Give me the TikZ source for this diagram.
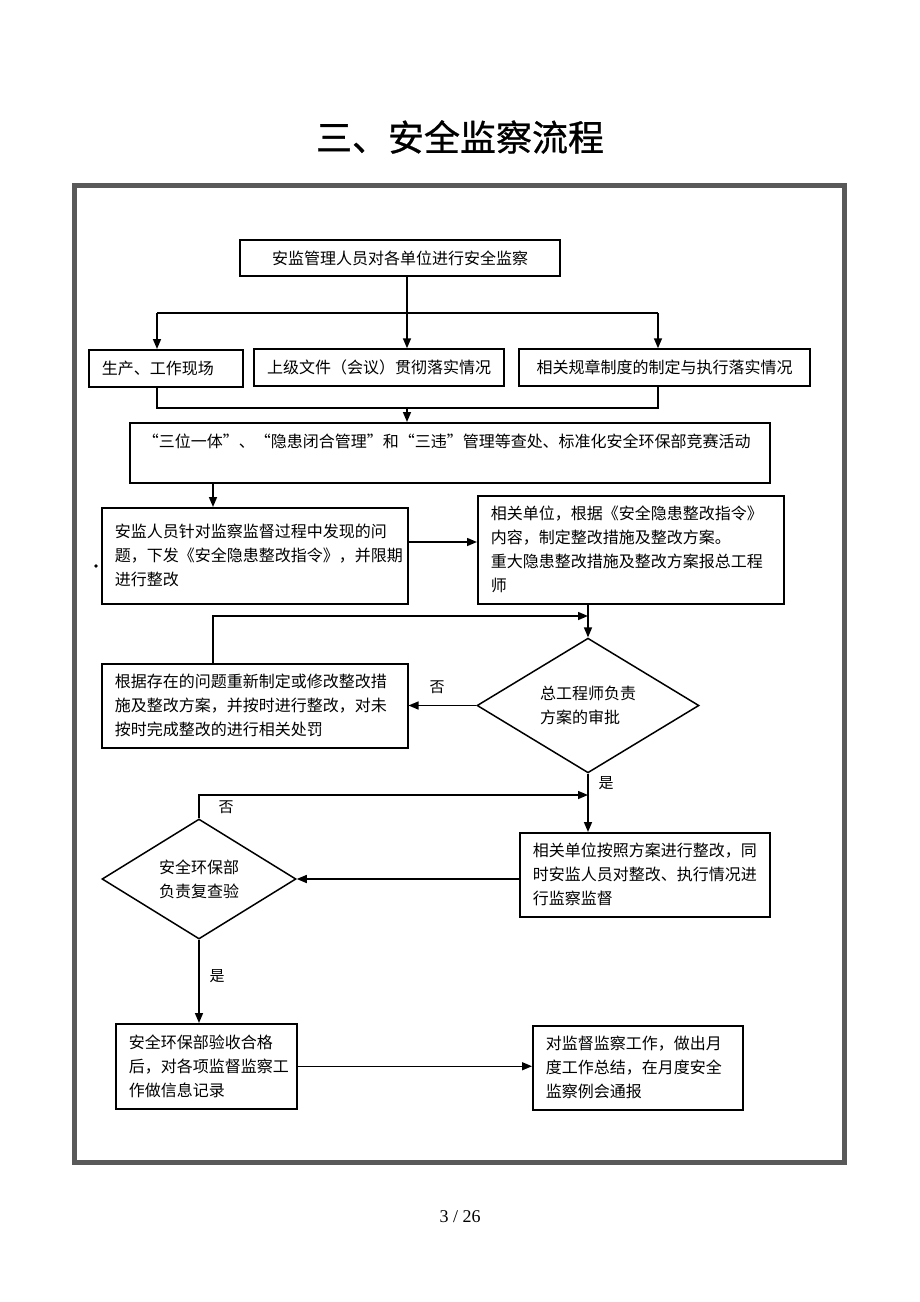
\documentclass[tikz,border=0pt]{standalone}
\usepackage{fontspec}
\setmainfont{Noto Sans CJK SC}
\newfontfamily\titlefont[FakeBold=0.8]{Noto Sans CJK SC}
\newfontfamily\pagefont{Liberation Serif}
\usetikzlibrary{arrows.meta,shapes.geometric}

\begin{document}
\begin{tikzpicture}[x=1pt,y=-1pt,
  box/.style={draw,line width=1.5pt,inner sep=0pt,font=\fontsize{16}{24}\selectfont},
  tbox/.style={box,anchor=north west,align=left,inner xsep=13pt},
  dbox/.style={draw,diamond,line width=1.5pt,inner sep=0pt,align=left,font=\fontsize{16}{24}\selectfont},
  ln/.style={line width=1.5pt},
  arr/.style={line width=1.5pt,-{Triangle[length=10pt,width=8pt]}},
  lab/.style={font=\fontsize{15}{18}\selectfont}]

\useasboundingbox (0,0) rectangle (920,1302);
\node[font=\titlefont\fontsize{36}{40}\selectfont] (title) at (460,137) {三、安全监察流程};
\draw[line width=5pt,black!65] (74.5,185.5) rectangle (844.5,1162.5);

\node[box,minimum width=320pt,minimum height=36pt] (top) at (400,258) {安监管理人员对各单位进行安全监察};
\node[tbox,text width=128pt,minimum height=37pt] (b1) at (88,349) {生产、工作现场};
\node[box,minimum width=250pt,minimum height=37pt] (b2) at (379,367.5) {上级文件（会议）贯彻落实情况};
\node[box,minimum width=291pt,minimum height=37pt] (b3) at (664.5,367.5) {相关规章制度的制定与执行落实情况};
\node[tbox,text width=614pt,minimum height=60pt] (sum) at (129,422) {“三位一体”、“隐患闭合管理”和“三违”管理等查处、标准化安全环保部竞赛活动\\ \mbox{}};
\node[tbox,text width=280pt,minimum height=96pt] (d1) at (101,507) {安监人员针对监察监督过程中发现的问\\题，下发《安全隐患整改指令》，并限期\\进行整改};
\node[tbox,text width=280pt,minimum height=108pt] (d2) at (477,495) {相关单位，根据《安全隐患整改指令》\\内容，制定整改措施及整改方案。\\重大隐患整改措施及整改方案报总工程\\师};
\node[dbox,minimum width=222pt,minimum height=133pt] (chk) at (588,705.5) {总工程师负责\\方案的审批};
\node[tbox,text width=280pt,minimum height=84pt] (e1) at (101,663) {根据存在的问题重新制定或修改整改措\\施及整改方案，并按时进行整改，对未\\按时完成整改的进行相关处罚};
\node[tbox,text width=224pt,minimum height=84pt] (f) at (519,832) {相关单位按照方案进行整改，同\\时安监人员对整改、执行情况进\\行监察监督};
\node[dbox,minimum width=194pt,minimum height=120pt] (rev) at (199,879) {安全环保部\\负责复查验};
\node[tbox,text width=155pt,minimum height=85pt] (h) at (115,1023) {安全环保部验收合格\\后，对各项监督监察工\\作做信息记录};
\node[tbox,text width=184pt,minimum height=84pt] (i) at (532,1025) {对监督监察工作，做出月\\度工作总结，在月度安全\\监察例会通报};

\coordinate (j1) at (157,313);
\coordinate (j2) at (407,313);
\coordinate (j3) at (658,313);
\draw[ln] (top.south -| j2) -- (j2);
\draw[ln] (j1) -- (j3);
\foreach \j/\b in {j1/b1,j2/b2,j3/b3}
  \draw[arr] (\j) -- (\j |- \b.north);

\coordinate (k1) at (157,408);
\coordinate (k2) at (407,408);
\coordinate (k3) at (658,408);
\draw[ln] (k1 |- b1.south) -- (k1) -- (k3) -- (k3 |- b3.south);
\draw[arr] (k2) -- (k2 |- sum.north);

\coordinate (m1) at (213,542);
\draw[arr] (sum.south -| m1) -- (m1 |- d1.north);
\draw[arr] (d1.east |- m1) -- (d2.west |- m1);
\draw[arr] (d2.south -| chk) -- (chk.north);

\coordinate (lp1) at (213,616);
\draw[arr] (e1.north -| lp1) -- (lp1) -- (lp1 -| chk);
\draw[arr] (chk.west) -- (chk.west -| e1.east);
\node[lab] (no1) at (437,687) {否};

\draw[arr] (chk.south) -- (chk.south |- f.north);
\node[lab] (yes1) at (606,783) {是};

\coordinate (lp2) at (199,795);
\draw[arr] (rev.north) -- (lp2) -- (lp2 -| chk);
\node[lab] (no2) at (226,807) {否};

\draw[arr] (rev.east -| f.west) -- (rev.east);
\draw[arr] (rev.south) -- (rev.south |- h.north);
\node[lab] (yes2) at (217,976) {是};

\draw[arr] (h.east) -- (h.east -| i.west);

\fill (96,566) circle (1.8);
\node[font=\pagefont\fontsize{18}{20}\selectfont] (pg) at (460,1217) {3 / 26};
\end{tikzpicture}
\end{document}
